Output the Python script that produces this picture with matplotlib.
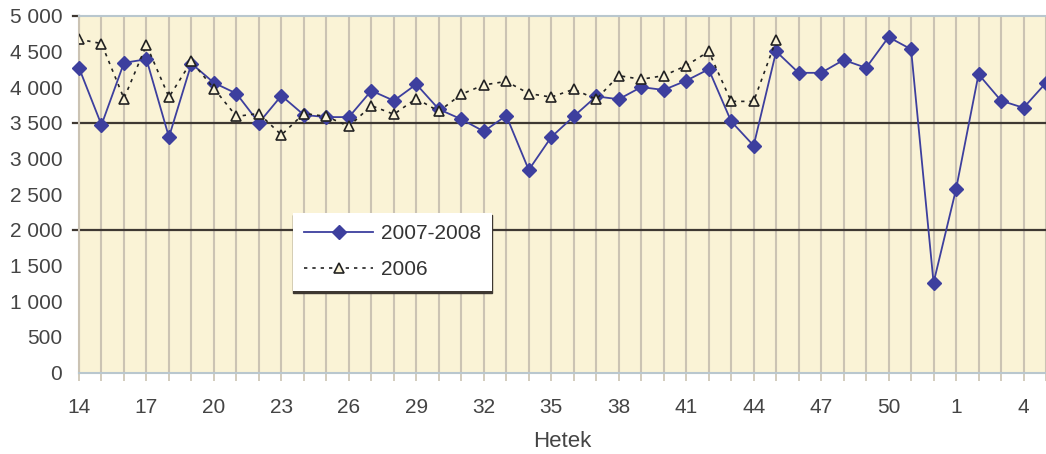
import matplotlib.pyplot as plt
from matplotlib.ticker import FuncFormatter

plt.rcParams['font.family'] = ['Liberation Sans', 'DejaVu Sans']

# weeks: 14..52 then 1..5 of the next year
weeks = list(range(14, 53)) + [1, 2, 3, 4, 5]
vals_0708 = [4270, 3470, 4340, 4390, 3300, 4330, 4060, 3910, 3500, 3880,
             3610, 3580, 3580, 3950, 3810, 4040, 3690, 3550, 3380, 3600,
             2840, 3300, 3590, 3870, 3830, 4000, 3960, 4090, 4250, 3520,
             3180, 4500, 4200, 4200, 4380, 4270, 4700, 4530, 1260, 2570,
             4180, 3810, 3710, 4060]
vals_2006 = [4670, 4610, 3840, 4590, 3860, 4360, 3980, 3590, 3630, 3330,
             3630, 3590, 3450, 3740, 3620, 3840, 3660, 3900, 4030, 4080,
             3910, 3860, 3970, 3830, 4160, 4110, 4160, 4300, 4500, 3800,
             3800, 4660]
ref_lines = [2000, 3500]

fig = plt.figure(figsize=(10.46, 4.54), dpi=100)
ax = fig.add_axes([79 / 1046, 1 - 372.7 / 454, 967 / 1046, 357 / 454])
ax.set_facecolor('#FAF3D6')

x = list(range(len(weeks)))
x06 = x[:len(vals_2006)]

# vertical grid at every week
for xi in x:
    ax.axvline(xi, color='#CBC3B3', lw=1.5, zorder=1)

for y in ref_lines:
    ax.plot([-0.28, 43], [y, y], color='#3E3832', lw=1.6, zorder=2, clip_on=False)
ax.plot([-0.28, 0], [5000, 5000], color='#3E3832', lw=1.6, clip_on=False)

ax.plot(x, vals_0708, color='#3D3F9E', lw=1.3, marker='D', markersize=7.5,
        label='2007-2008', zorder=3, clip_on=False)
ax.plot(x06, vals_2006, color='#222222', lw=1.2, ls=(0, (2, 3)), marker='^',
        markersize=7, markerfacecolor='#FAF3D6', markeredgecolor='#222222',
        markeredgewidth=1.2, label='2006', zorder=4)

ax.set_xlim(0, 42.85)
ax.set_ylim(0, 5000)
ax.set_yticks(range(0, 5001, 500))
ax.yaxis.set_major_formatter(FuncFormatter(lambda v, p: f'{int(v):,}'.replace(',', ' ')))
ax.tick_params(axis='y', length=0, pad=12, labelsize=15, labelcolor='#444444')

ax.set_xticks(x)
ax.set_xticklabels([str(w) if i % 3 == 0 else '' for i, w in enumerate(weeks)])
ax.tick_params(axis='x', length=6, width=1.2, color='#CBC3B3', pad=12,
               labelsize=15, labelcolor='#444444')

for side in ['top', 'bottom']:
    ax.spines[side].set_color('#B9C7CE')
    ax.spines[side].set_linewidth(1.5)
ax.spines['left'].set_color('#CBC3B3')
ax.spines['left'].set_linewidth(1.5)
ax.spines['right'].set_visible(False)

ax.set_xlabel('Hetek', fontsize=16, color='#444444', labelpad=10)

leg = ax.legend(loc='upper left', bbox_to_anchor=(293 / 1046, 1 - 213 / 454),
                bbox_transform=fig.transFigure, fontsize=15, frameon=True,
                fancybox=False, edgecolor='none', facecolor='white', framealpha=1,
                borderpad=0.55, handlelength=3.3, handletextpad=0.35,
                labelspacing=0.8, borderaxespad=0,
                shadow={'ox': 0, 'oy': -1.5, 'color': '#3E3832', 'alpha': 1})
for t in leg.get_texts():
    t.set_color('#333333')

fig.savefig('out.png', dpi=100)
